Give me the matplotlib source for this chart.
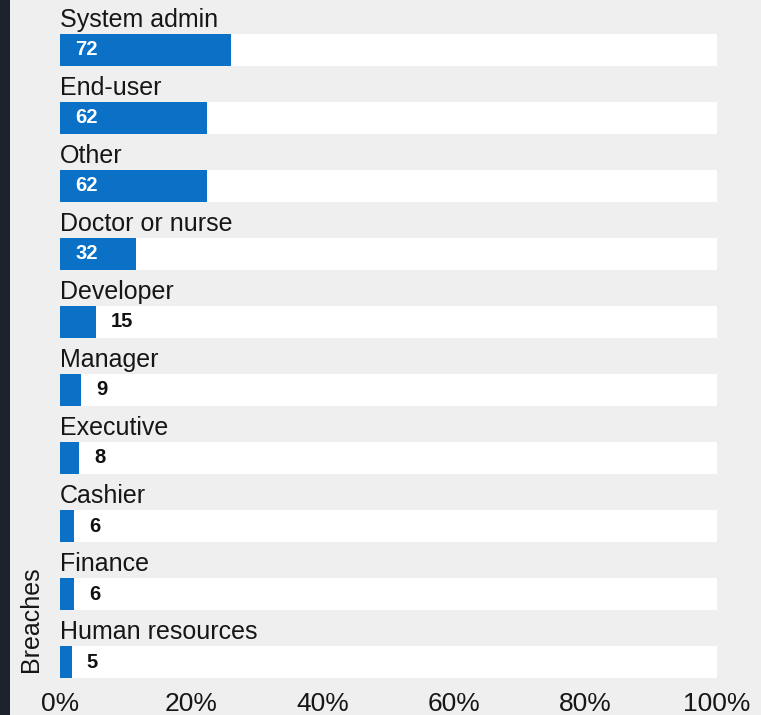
import matplotlib.pyplot as plt
from matplotlib.patches import Rectangle

plt.rcParams['font.family'] = ['Liberation Sans', 'DejaVu Sans']

roles = ['System admin', 'End-user', 'Other', 'Doctor or nurse', 'Developer',
         'Manager', 'Executive', 'Cashier', 'Finance', 'Human resources']
breaches = [72, 62, 62, 32, 15, 9, 8, 6, 6, 5]
ticks = [0, 20, 40, 60, 80, 100]
tick_labels = ['0%', '20%', '40%', '60%', '80%', '100%']

total = sum(breaches)
pct = [b / total * 100 for b in breaches]

bg = '#efefef'
blue = '#0a71c6'

fig = plt.figure(figsize=(7.61, 7.15), dpi=100, facecolor=bg)
# dark strip at the left edge
fig.patches.append(Rectangle((0, 0), 10 / 761, 1, transform=fig.transFigure,
                             facecolor='#1e222a', edgecolor='none', zorder=0))

ax = fig.add_axes([60 / 761, 33 / 715, 657 / 761, 682 / 715])
ax.set_facecolor(bg)

ys = list(range(len(roles)))
h = 0.465
ax.barh(ys, [100] * len(roles), height=h, color='white', zorder=1)
ax.barh(ys, pct, height=h, color=blue, zorder=2)

for y, name, v, p in zip(ys, roles, breaches, pct):
    ax.text(0, y - h / 2 - 0.1, name, fontsize=18, color='#161616',
            ha='left', va='baseline')
    if p > 8:
        ax.annotate(str(v), (0, y), xytext=(15, 0), textcoords='offset pixels',
                    color='white', fontsize=14.5, fontweight='bold',
                    ha='left', va='center', zorder=3)
    else:
        ax.annotate(str(v), (p, y), xytext=(15, 0), textcoords='offset pixels',
                    color='#111111', fontsize=14.5, fontweight='bold',
                    ha='left', va='center', zorder=3)

ax.set_xlim(0, 100)
ax.set_ylim(9.294, -0.735)
ax.set_xticks(ticks)
ax.set_xticklabels(tick_labels, fontsize=19, color='#161616')
ax.set_yticks([])
ax.tick_params(axis='x', length=0, pad=7)
for s in ax.spines.values():
    s.set_visible(False)

fig.text(31 / 761, 43 / 715, 'Breaches', rotation=90, fontsize=18,
         color='#161616', ha='center', va='bottom')

fig.savefig('out.png', dpi=100, facecolor=bg)
